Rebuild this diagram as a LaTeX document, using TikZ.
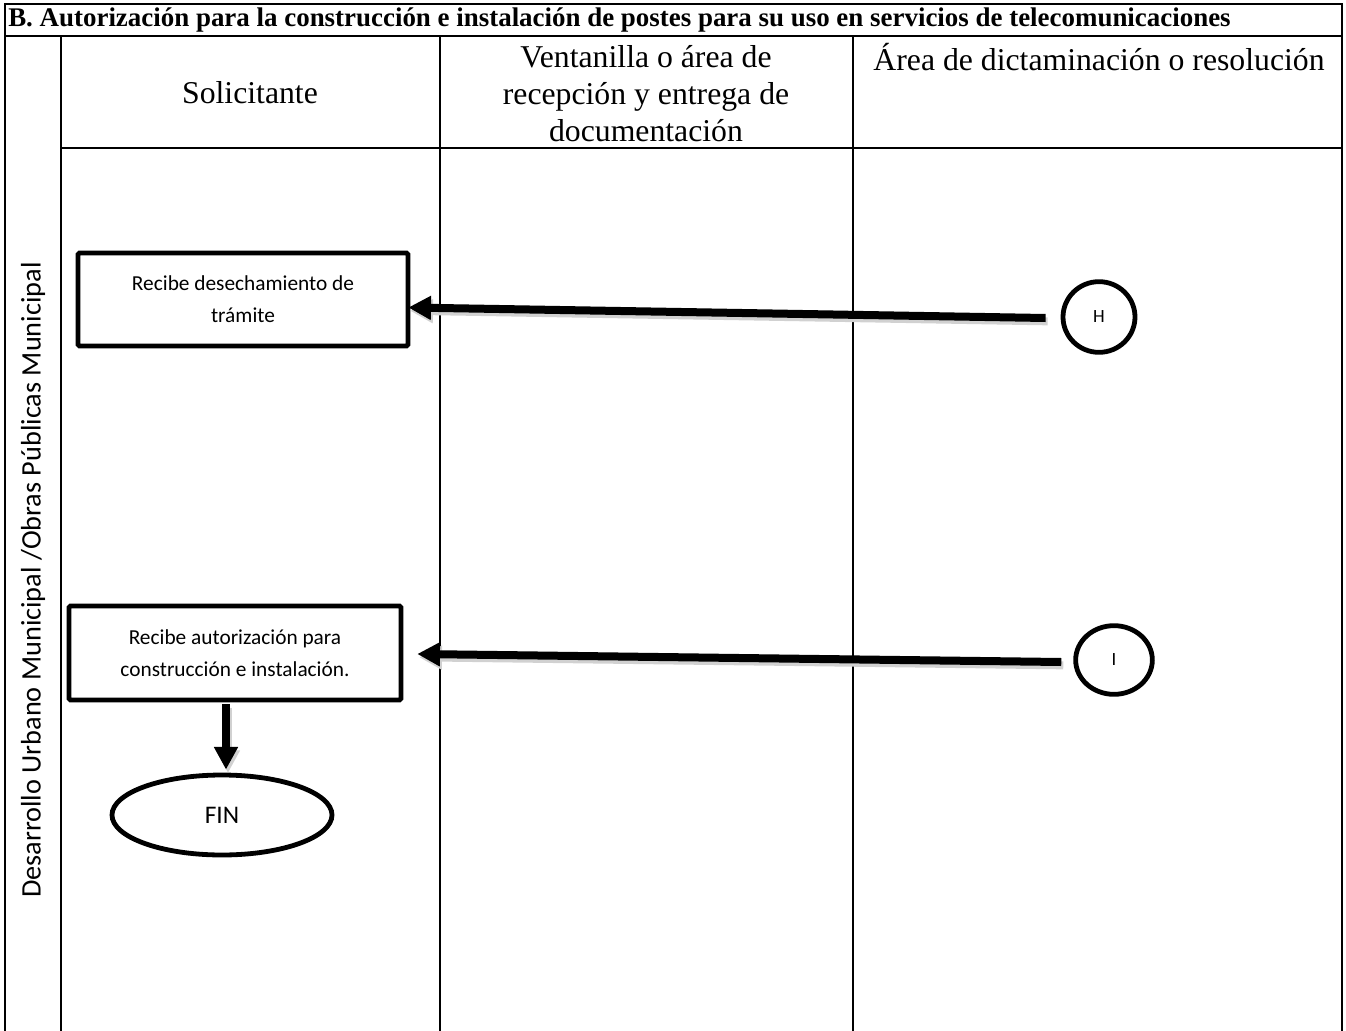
\documentclass[tikz,border=0pt]{standalone}
\usepackage{fontspec}
\setmainfont{Liberation Serif}
\newfontfamily\calib{Carlito}
\usetikzlibrary{arrows.meta,calc,shapes.geometric}
\begin{document}
\begin{tikzpicture}[x=0.75pt,y=-0.75pt,
  tbl/.style={line width=2.2pt},
  procbox/.style={draw,line width=3.4pt,rounded corners=1pt,font=\calib\fontsize{16}{24}\selectfont,align=center,inner sep=0pt},
  conn/.style={draw,ellipse,line width=3.6pt,inner sep=0pt,font=\calib\fontsize{14}{16}\selectfont},
  bigarrow/.style={line width=6pt,-{Triangle[length=17pt,width=17pt]},
    preaction={draw=black!18,line width=6pt,transform canvas={shift={(1.5pt,-2.5pt)}}}},
  hdr/.style={font=\fontsize{23.8}{27.75}\selectfont,align=center,inner sep=0pt}]
\useasboundingbox (0,0) rectangle (1346,1031);
% table
\draw[tbl] (5,1031) -- (5,4) -- (1342,4) -- (1342,1031);
\draw[tbl] (5,36) -- (1342,36);
\draw[tbl] (61,148) -- (1342,148);
\draw[tbl] (61,36) -- (61,1031);
\draw[tbl] (440,36) -- (440,1031);
\draw[tbl] (853,36) -- (853,1031);
% title and headers
\node[anchor=west,inner sep=0pt,font=\bfseries\fontsize{20.2}{22}\selectfont] (title) at (8,20) {B. Autorización para la construcción e instalación de postes para su uso en servicios de telecomunicaciones};
\node[hdr] (hsol) at (250,93) {Solicitante};
\node[hdr] (hven) at (646,94) {Ventanilla o área de\\recepción y entrega de\\documentación};
\node[hdr] (hare) at (1099,57) {Área de dictaminación o resolución};
\node[rotate=90,inner sep=0pt,font=\calib\fontsize{21.2}{24}\selectfont] (lane) at (33,580) {Desarrollo Urbano Municipal /Obras Públicas Municipal};
% flow nodes
\node[procbox,minimum width=247.5pt,minimum height=69.75pt] (box1) at (243,299.5) {Recibe desechamiento de\\trámite};
\node[procbox,minimum width=249pt,minimum height=70.5pt] (box2) at (235,653) {Recibe autorización para\\construcción e instalación.};
\node[conn,minimum width=54pt,minimum height=53pt] (H) at (1099,317) {H};
\node[conn,minimum width=57.5pt,minimum height=51.5pt] (I) at (1114,660) {I};
\node[draw,ellipse,line width=3.6pt,inner sep=0pt,minimum width=165pt,minimum height=60pt,font=\calib\fontsize{19}{21}\selectfont] (fin) at (222,815) {FIN};
% connectors
\draw[bigarrow] ($(H.west)+(-15,1)$) -- ($(box1.east)+(-2,8)$);
\draw[bigarrow] ($(I.west)+(-12,2)$) -- ($(box2.east)+(14,1)$);
\draw[bigarrow] ($(box2.south)+(-9,2)$) -- ($(fin.north)+(4,-3)$);
\end{tikzpicture}
\end{document}
